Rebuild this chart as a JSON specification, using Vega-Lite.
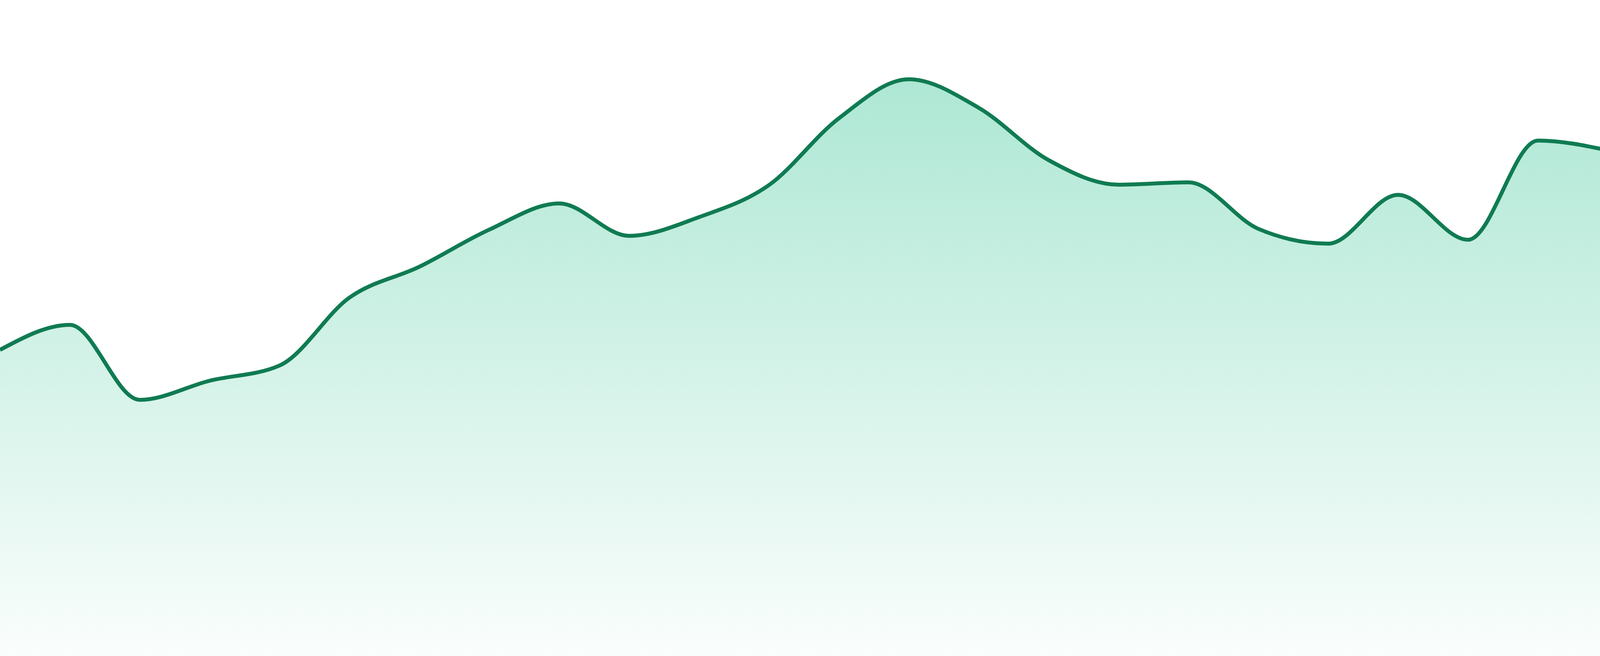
{
  "$schema": "https://vega.github.io/schema/vega-lite/v6.json",
  "autosize": "none",
  "width": 4116,
  "height": 1680,
  "padding": 0,
  "background": "white",
  "data": {
    "values": [
      {"day": 0, "value": 78.4},
      {"day": 1, "value": 84.8},
      {"day": 2, "value": 65.6},
      {"day": 3, "value": 70.5},
      {"day": 4, "value": 74.4},
      {"day": 5, "value": 91.8},
      {"day": 6, "value": 99.7},
      {"day": 7, "value": 109.2},
      {"day": 8, "value": 115.9},
      {"day": 9, "value": 107.6},
      {"day": 10, "value": 112.4},
      {"day": 11, "value": 120.6},
      {"day": 12, "value": 137.7},
      {"day": 13, "value": 147.7},
      {"day": 14, "value": 140.4},
      {"day": 15, "value": 127.0},
      {"day": 16, "value": 120.7},
      {"day": 17, "value": 121.3},
      {"day": 18, "value": 109.4},
      {"day": 19, "value": 105.6},
      {"day": 20, "value": 118.1},
      {"day": 21, "value": 106.6},
      {"day": 22, "value": 132.0},
      {"day": 23, "value": 129.5}
    ]
  },
  "encoding": {
    "x": {
      "field": "day",
      "type": "quantitative",
      "scale": {"domain": [0, 23], "nice": false, "zero": false},
      "axis": null
    },
    "y": {
      "field": "value",
      "type": "quantitative",
      "scale": {"domain": [0, 168], "nice": false},
      "axis": null
    }
  },
  "layer": [
    {
      "mark": {
        "type": "area",
        "interpolate": "monotone",
        "fill": {
          "gradient": "linear",
          "x1": 0, "y1": 0, "x2": 0, "y2": 1,
          "stops": [
            {"offset": 0, "color": "rgba(16,185,129,0.34)"},
            {"offset": 1, "color": "rgba(16,185,129,0.02)"}
          ]
        }
      }
    },
    {
      "mark": {
        "type": "line",
        "interpolate": "monotone",
        "color": "#107b52",
        "strokeWidth": 10
      }
    }
  ],
  "config": {
    "view": {"stroke": null}
  }
}
